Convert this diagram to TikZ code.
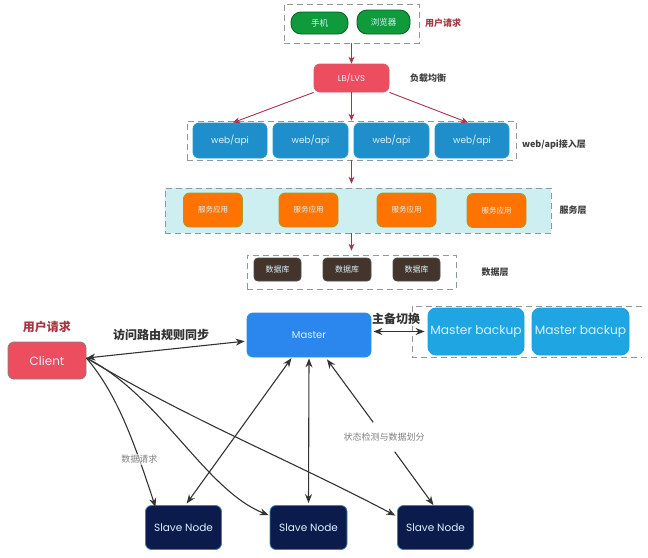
\documentclass[tikz,border=0pt]{standalone}
\usepackage{fontspec}
\usepackage{tikz}
\usepackage{xcolor}
\usetikzlibrary{arrows.meta}
\setmainfont{Poppins}
\newfontfamily\cjk{Noto Sans CJK SC}
\definecolor{arrow-red}{HTML}{A8324C}
\definecolor{arrow-dark}{HTML}{333333}
\definecolor{dash-gray}{HTML}{8E9A9A}
\definecolor{phone-green}{HTML}{0F9B3C}
\definecolor{lb-red}{HTML}{EC4E60}
\definecolor{web-blue}{HTML}{1F8FCB}
\definecolor{band-cyan}{HTML}{CDEFF2}
\definecolor{db-brown}{HTML}{43352C}
\definecolor{master-blue}{HTML}{2B86EE}
\definecolor{backup-blue}{HTML}{1EA5E2}
\definecolor{slave-navy}{HTML}{0B1B4B}
\tikzset{
    round-box/.style = {draw, rectangle, rounded corners=6pt, line width=0.8pt, text=white!85!cyan, align=center, inner sep=0pt},
    phone-box/.style = {round-box, draw=phone-green!60!black, fill=phone-green, rounded corners=10pt, minimum height=22pt, font=\cjk\fontsize{8.5}{9}\selectfont},
    lb-box/.style = {round-box, draw=lb-red!80!gray, fill=lb-red, minimum width=75pt, minimum height=28pt, font=\fontsize{8.5}{9}\selectfont},
    web-box/.style = {round-box, draw=web-blue!90!cyan, fill=web-blue, minimum width=74pt, minimum height=35pt, font=\fontsize{9}{9}\selectfont},
    service-box/.style = {round-box, draw=olive!80, fill=orange!90!red, minimum width=59pt, minimum height=34pt, font=\cjk\fontsize{7.5}{8}\selectfont},
    db-box/.style = {round-box, draw=black!70, fill=db-brown, rounded corners=4pt, minimum width=47pt, minimum height=23pt, font=\cjk\fontsize{8}{8}\selectfont},
    master-box/.style = {round-box, draw=cyan!50!master-blue, fill=master-blue, minimum width=124pt, minimum height=44pt, font=\fontsize{10}{10}\selectfont},
    backup-box/.style = {round-box, draw=cyan!60!backup-blue, fill=backup-blue, rounded corners=8pt, minimum width=96pt, minimum height=47pt, font=\fontsize{12.2}{13}\selectfont},
    slave-box/.style = {round-box, draw=cyan!60!black, fill=slave-navy, minimum width=76pt, minimum height=44pt, font=\fontsize{10.5}{11}\selectfont},
    client-box/.style = {round-box, draw=gray, fill=lb-red, minimum width=78pt, minimum height=37pt, font=\fontsize{12}{12}\selectfont},
    group-box/.style = {draw=dash-gray, dash pattern=on 6pt off 4pt, line width=0.8pt, rectangle, inner sep=0pt},
    layer-label/.style = {font=\cjk\bfseries\fontsize{9}{9}\selectfont, text=black!75},
    request-label/.style = {font=\cjk\bfseries\fontsize{9}{9}\selectfont, text=lb-red!70!black},
    big-label/.style = {font=\cjk\bfseries\fontsize{12}{12}\selectfont, text=black!80},
    thin-label/.style = {font=\cjk\fontsize{9}{9}\selectfont, text=gray},
    red-arrow/.style = {draw=arrow-red, line width=0.9pt, -{Stealth[length=7pt,width=6pt]}},
    dark-arrow/.style = {draw=arrow-dark, line width=1.1pt, -{Stealth[length=9pt,width=7pt]}},
    both-arrow/.style = {draw=arrow-dark, line width=1.1pt, {Stealth[length=9pt,width=7pt]}-{Stealth[length=9pt,width=7pt]}},
}
\begin{document}
\begin{tikzpicture}[x=1pt,y=-1pt]
\useasboundingbox (0,0) rectangle (648,557);
% request layer
\node [group-box, minimum width=135pt, minimum height=39pt] (top-group) at (351.5,23.5) {};
\node [phone-box, minimum width=57pt] (phone) at (319.5,23) {手机};
\node [phone-box, minimum width=53pt, minimum height=24pt] (browser) at (383.5,22) {浏览器};
\node [request-label] (top-label) at (443,23) {用户请求};
\node [lb-box] (lb) at (351.5,78) {LB/LVS};
\node [layer-label] (lb-label) at (428,78) {负载均衡};
% web layer
\node [group-box, minimum width=329pt, minimum height=39pt] (web-group) at (351.5,140.5) {};
\node [web-box] (web1) at (230,140.5) {web/api};
\node [web-box, minimum width=75pt] (web2) at (310.5,140.5) {web/api};
\node [web-box, minimum width=75pt] (web3) at (391.5,140.5) {web/api};
\node [web-box] (web4) at (472,140.5) {web/api};
\node [layer-label] (web-label) at (554,145) {web/api接入层};
% service layer
\node [group-box, fill=band-cyan, minimum width=386pt, minimum height=45pt] (service-group) at (358,210.5) {};
\node [service-box] (service1) at (213,210) {服务应用};
\node [service-box] (service2) at (308.5,210) {服务应用};
\node [service-box] (service3) at (406.5,210) {服务应用};
\node [service-box] (service4) at (496.5,210.5) {服务应用};
\node [layer-label] (service-label) at (573,210) {服务层};
% db layer
\node [group-box, minimum width=209pt, minimum height=34pt] (db-group) at (351.5,272) {};
\node [db-box] (db1) at (277.5,269.5) {数据库};
\node [db-box, minimum width=48pt] (db2) at (347,269.5) {数据库};
\node [db-box] (db3) at (416.5,269.5) {数据库};
\node [layer-label] (db-label) at (495,272) {数据层};
% upper arrows
\draw [red-arrow] (top-group.south -| lb.north) -- (lb.north);
\draw [red-arrow] (lb.south west) -- ([xshift=3pt]web1.north);
\draw [red-arrow] (lb.south) -- (web-group.north);
\draw [red-arrow] (lb.south east) -- ([xshift=-4pt]web4.north);
\draw [red-arrow, shorten >=4pt] (web-group.south) -- (web-group.south |- service-group.north);
\draw [red-arrow, shorten >=4pt] (db-group.north |- service-group.south) -- (db-group.north);
% master and backups
\node [master-box] (master) at (309,335) {Master};
\coordinate (group-nw) at (412,306);
\coordinate (group-ne) at (642,306);
\coordinate (group-sw) at (412,357);
\coordinate (group-se) at (642,357);
\draw [group-box] (group-ne) -- (group-nw) -- (group-sw) -- (group-se);
\node [backup-box] (backup1) at (476,331.5) {Master backup};
\node [backup-box, minimum width=97pt] (backup2) at (580.5,331.5) {Master backup};
\node [big-label] (switch-label) at (396,319) {主备切换};
\draw [both-arrow, shorten <=2pt, shorten >=3pt] (backup1.west -| master.east) -- (backup1.west);
% client and slaves
\node [client-box] (client) at (47,360.5) {Client};
\node [request-label, font=\cjk\bfseries\fontsize{12}{12}\selectfont] (client-label) at (47,327) {用户请求};
\node [big-label] (sync-label) at (161,335) {访问路由规则同步};
\node [slave-box] (slave1) at (183.5,527.5) {Slave Node};
\node [slave-box, minimum width=77pt] (slave2) at (308.5,527.5) {Slave Node};
\node [slave-box] (slave3) at (435.5,527.5) {Slave Node};
\node [thin-label, minimum height=29pt] (state-label) at (384,437) {状态检测与数据划分};
\draw [both-arrow, shorten >=2pt] ([yshift=2.5pt]client.east) -- ([yshift=-6pt]master.west);
\draw [both-arrow, shorten <=1pt, shorten >=2pt] ([xshift=-17pt]master.south) -- ([xshift=2pt]slave1.north);
\draw [both-arrow, shorten <=1pt, shorten >=2pt] (master.south) -- (slave2.north);
\draw [dark-arrow] (state-label) -- ([xshift=18pt,yshift=-2pt]master.south);
\draw [dark-arrow] (state-label) -- ([xshift=-2pt]slave3.north);
\draw [dark-arrow] ([yshift=2.5pt]client.east) .. controls (118,395) and (135,445) .. ([xshift=-28pt,yshift=-2pt]slave1.north) node [thin-label, pos=0.73, fill=white, inner sep=1pt, fill opacity=0.6, text opacity=1] (request-label) {数据请求};
\draw [dark-arrow, shorten >=1pt] ([yshift=2.5pt]client.east) .. controls (160,395) and (205,490) .. ([yshift=12pt]slave2.west);
\draw [dark-arrow, shorten >=2pt] ([yshift=2.5pt]client.east) .. controls (190,420) and (290,460) .. ([yshift=11pt]slave3.west);
\end{tikzpicture}
\end{document}
